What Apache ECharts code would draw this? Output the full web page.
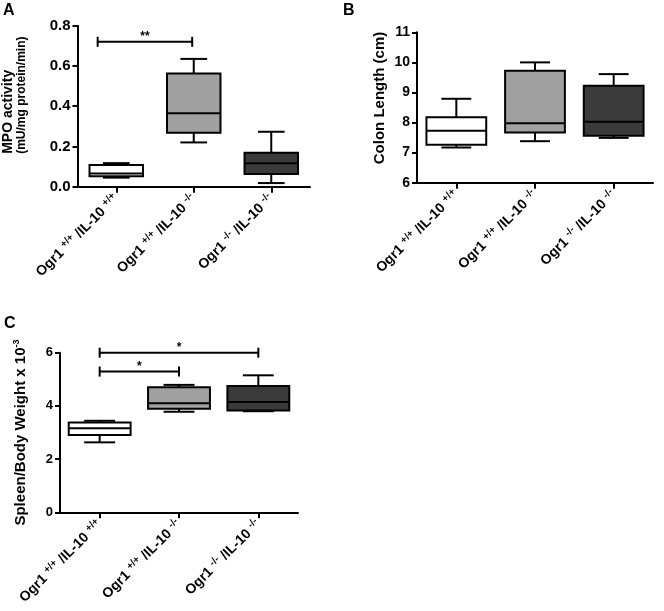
<!DOCTYPE html>
<html><head><meta charset="utf-8">
<script src="https://cdn.jsdelivr.net/npm/echarts@6/dist/echarts.min.js"></script>
<style>html,body{margin:0;padding:0;background:#fff}#c{width:664px;height:611px}</style>
</head><body><div id="c"></div>
<script>
// ---- data ----
const categories = ['Ogr1+/+ IL-10+/+', 'Ogr1+/+ IL-10-/-', 'Ogr1-/- IL-10-/-'];
const ogr1Genotype = ['+/+', '+/+', '-/-'];
const il10Genotype = ['+/+', '-/-', '-/-'];

// Panel A: MPO activity
const mpoMin    = [0.045, 0.220, 0.018];
const mpoQ1     = [0.052, 0.268, 0.063];
const mpoMedian = [0.065, 0.365, 0.116];
const mpoQ3     = [0.108, 0.563, 0.169];
const mpoMax    = [0.117, 0.635, 0.273];
const mpoTicks  = [0, 0.2, 0.4, 0.6, 0.8];

// Panel B: Colon length
const colonMin    = [7.17, 7.38, 7.49];
const colonQ1     = [7.26, 7.67, 7.56];
const colonMedian = [7.73, 7.98, 8.03];
const colonQ3     = [8.18, 9.72, 9.22];
const colonMax    = [8.79, 10.00, 9.61];
const colonTicks  = [6, 7, 8, 9, 10, 11];

// Panel C: Spleen / body weight
const spleenMin    = [2.63, 3.78, 3.80];
const spleenQ1     = [2.91, 3.89, 3.83];
const spleenMedian = [3.16, 4.10, 4.15];
const spleenQ3     = [3.38, 4.70, 4.75];
const spleenMax    = [3.44, 4.79, 5.15];
const spleenTicks  = [0, 2, 4, 6];

// significance brackets: [from category, to category, y value, label]
const mpoBrackets    = [[-0.24, 0.98, 0.72, '**']];
const spleenBrackets = [[0, 1, 5.29, '*'], [0, 2, 6.0, '*']];

// ---- styles ----
const FONT = '"Liberation Sans", Arial, Helvetica, sans-serif';
const fills = ['#ffffff', '#a0a0a0', '#3a3a3a'];

function boxData(mn, q1, md, q3, mx) {
  return categories.map((c, i) => [i, mn[i], q1[i], md[i], q3[i], mx[i]]);
}

function boxRender(ratio) {
  return function (params, api) {
    const i = api.value(0);
    const band = api.size([1, 0])[0];
    const bw = band * ratio;
    const cw = bw * 0.5;
    const cx = api.coord([i, api.value(3)])[0];
    const y = k => api.coord([i, api.value(k)])[1];
    const yMin = y(1), yQ1 = y(2), yMed = y(3), yQ3 = y(4), yMax = y(5);
    const ls = { stroke: '#000', lineWidth: 2 };
    return {
      type: 'group',
      children: [
        { type: 'line', shape: { x1: cx, y1: yMax, x2: cx, y2: yQ3 }, style: ls },
        { type: 'line', shape: { x1: cx, y1: yQ1, x2: cx, y2: yMin }, style: ls },
        { type: 'line', shape: { x1: cx - cw / 2, y1: yMax, x2: cx + cw / 2, y2: yMax }, style: ls },
        { type: 'line', shape: { x1: cx - cw / 2, y1: yMin, x2: cx + cw / 2, y2: yMin }, style: ls },
        { type: 'rect', shape: { x: cx - bw / 2, y: yQ3, width: bw, height: yQ1 - yQ3 },
          style: { fill: fills[i], stroke: '#000', lineWidth: 2 } },
        { type: 'line', shape: { x1: cx - bw / 2, y1: yMed, x2: cx + bw / 2, y2: yMed }, style: ls }
      ]
    };
  };
}

function bracketRender(list) {
  return function (params, api) {
    const b = list[params.dataIndex];
    const band = api.size([1, 0])[0];
    const p0 = api.coord([0, b[2]]);
    const x1 = p0[0] + b[0] * band, x2 = p0[0] + b[1] * band, yy = p0[1];
    const ls = { stroke: '#000', lineWidth: 2 };
    return {
      type: 'group',
      children: [
        { type: 'line', shape: { x1: x1, y1: yy, x2: x2, y2: yy }, style: ls },
        { type: 'line', shape: { x1: x1, y1: yy - 5, x2: x1, y2: yy + 5 }, style: ls },
        { type: 'line', shape: { x1: x2, y1: yy - 5, x2: x2, y2: yy + 5 }, style: ls },
        { type: 'text', style: { x: (x1 + x2) / 2, y: yy + 1, text: b[3], fill: '#000',
          font: 'bold 12px ' + FONT, textAlign: 'center', textVerticalAlign: 'bottom' } }
      ]
    };
  };
}

const xLabelRich = {
  m: { fontSize: 14, fontWeight: 'bold', fontFamily: FONT, color: '#000', lineHeight: 17 },
  s: { fontSize: 10, fontWeight: 'bold', fontFamily: FONT, color: '#000', verticalAlign: 'top' }
};

function xAxis(g) {
  return {
    gridIndex: g, type: 'category', data: categories,
    axisLine: { show: true, lineStyle: { color: '#000', width: 2 } },
    axisTick: { show: true, alignWithLabel: true, length: 6, lineStyle: { color: '#000', width: 2 } },
    splitLine: { show: false },
    axisLabel: {
      rotate: 45, margin: 10, interval: 0,
      formatter: (v, i) => '{m|Ogr1 }{s|' + ogr1Genotype[i] + '}{m| /IL-10 }{s|' + il10Genotype[i] + '}',
      rich: xLabelRich
    }
  };
}

function yAxis(g, ticks, fontSize, digits, name, nameGap, nameStyle) {
  return {
    gridIndex: g, type: 'value',
    min: ticks[0], max: ticks[ticks.length - 1], interval: ticks[1] - ticks[0],
    axisLine: { show: true, lineStyle: { color: '#000', width: 2 } },
    axisTick: { show: true, length: 5, lineStyle: { color: '#000', width: 2 } },
    splitLine: { show: false },
    axisLabel: { fontSize: fontSize, fontWeight: 'bold', fontFamily: FONT, color: '#000', margin: 7,
      formatter: v => v.toFixed(digits) },
    name: name, nameLocation: 'middle', nameGap: nameGap, nameRotate: 90,
    nameTextStyle: nameStyle
  };
}

const chart = echarts.init(document.getElementById('c'), null, { renderer: 'canvas' });
chart.setOption({
  animation: false,
  backgroundColor: '#fff',
  title: [
    { text: 'A', left: 3, top: 3, padding: 0, textStyle: { fontSize: 16, fontWeight: 'bold', fontFamily: FONT, color: '#000' } },
    { text: 'B', left: 343, top: 3, padding: 0, textStyle: { fontSize: 16, fontWeight: 'bold', fontFamily: FONT, color: '#000' } },
    { text: 'C', left: 4, top: 316, padding: 0, textStyle: { fontSize: 16, fontWeight: 'bold', fontFamily: FONT, color: '#000' } }
  ],
  grid: [
    { left: 70, top: 25.7, width: 240, height: 161 },
    { left: 417, top: 32.3, width: 236, height: 150.4 },
    { left: 60, top: 352.7, width: 238, height: 159.6 }
  ],
  xAxis: [xAxis(0), xAxis(1), xAxis(2)],
  yAxis: [
    yAxis(0, mpoTicks, 15, 1, '{a|MPO activity}\n{b|(mU/mg protein/min)}', 49, {
      fontSize: 12, padding: [0, 0, 0, 22],
      rich: {
        a: { fontSize: 14, fontWeight: 'bold', fontFamily: FONT, color: '#000', align: 'left', lineHeight: 15 },
        b: { fontSize: 12, fontWeight: 'bold', fontFamily: FONT, color: '#000', align: 'left', lineHeight: 13 }
      }
    }),
    yAxis(1, colonTicks, 14, 0, 'Colon Length (cm)', 30, {
      fontSize: 15, fontWeight: 'bold', fontFamily: FONT, color: '#000', padding: [0, 0, 0, 19]
    }),
    yAxis(2, spleenTicks, 13, 0, '{n|Spleen/Body Weight x 10}{s|-3}', 31, {
      rich: {
        n: { fontSize: 15, fontWeight: 'bold', fontFamily: FONT, color: '#000', lineHeight: 17 },
        s: { fontSize: 9, fontWeight: 'bold', fontFamily: FONT, color: '#000', verticalAlign: 'top' }
      }
    })
  ],
  series: [
    { type: 'custom', xAxisIndex: 0, yAxisIndex: 0, renderItem: boxRender(0.69),
      encode: { x: 0, y: [1, 2, 3, 4, 5] }, data: boxData(mpoMin, mpoQ1, mpoMedian, mpoQ3, mpoMax) },
    { type: 'custom', xAxisIndex: 1, yAxisIndex: 1, renderItem: boxRender(0.76),
      encode: { x: 0, y: [1, 2, 3, 4, 5] }, data: boxData(colonMin, colonQ1, colonMedian, colonQ3, colonMax) },
    { type: 'custom', xAxisIndex: 2, yAxisIndex: 2, renderItem: boxRender(0.78),
      encode: { x: 0, y: [1, 2, 3, 4, 5] }, data: boxData(spleenMin, spleenQ1, spleenMedian, spleenQ3, spleenMax) },
    { type: 'custom', xAxisIndex: 0, yAxisIndex: 0, renderItem: bracketRender(mpoBrackets), clip: false,
      encode: { x: 0, y: 1 }, data: mpoBrackets.map(b => [0, b[2]]) },
    { type: 'custom', xAxisIndex: 2, yAxisIndex: 2, renderItem: bracketRender(spleenBrackets), clip: false,
      encode: { x: 0, y: 1 }, data: spleenBrackets.map(b => [0, b[2]]) }
  ]
});
</script>
</body></html>
